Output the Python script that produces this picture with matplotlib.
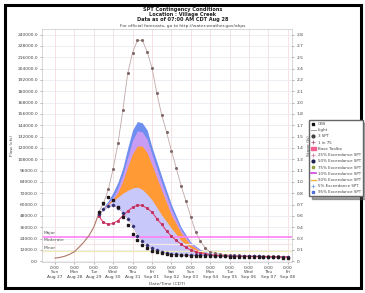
import numpy as np
from matplotlib import pyplot as plt
from matplotlib.lines import Line2D
from matplotlib.patches import Patch, Rectangle

# day offsets from Aug 27 00:00 CDT
tick_days = list(range(13))
tick_labels = [
    "0:00\nSun\nAug 27", "0:00\nMon\nAug 28", "0:00\nTue\nAug 29", "0:00\nWed\nAug 30",
    "0:00\nThu\nAug 31", "0:00\nFri\nSep 01", "0:00\nSat\nSep 02", "0:00\nSun\nSep 03",
    "0:00\nMon\nSep 04", "0:00\nTue\nSep 05", "0:00\nWed\nSep 06", "0:00\nThu\nSep 07",
    "0:00\nFri\nSep 08",
]

obs_t = [0, 0.25, 0.5, 0.75, 1.0, 1.25, 1.5, 1.75, 2.0, 2.25]
obs_flow = [3200, 4000, 5200, 7200, 10000, 15000, 20500, 27000, 36000, 50000]

# 6-hourly forecast traces
fc_t = np.arange(2.25, 12.01, 0.25)
max_flow = [52000, 61000, 76000, 98000, 125000, 160000, 199000, 221000, 234000, 234000,
            222000, 205000, 178000, 155000, 137000, 117000, 99000, 80000, 64000, 47000,
            31000, 21000, 14000, 9600, 8200, 7500, 7000, 6600, 6300, 6100,
            5900, 5700, 5500, 5400, 5300, 5200, 5100, 5000, 4900, 4800]
p50_flow = [50000, 55000, 58000, 59500, 56000, 51000, 45000, 37000, 27000, 21000,
            17000, 13500, 11500, 9800, 8600, 7800, 7300, 7000, 6800, 6600,
            6400, 6200, 6100, 6000, 5900, 5800, 5700, 5600, 5500, 5400,
            5300, 5200, 5100, 5000, 4900, 4800, 4700, 4600, 4500, 4400]
obs_sq_flow = [52000, 62000, 68000, 65000, 57000, 47000, 38000, 29000, 22000, 17000,
               13500, 11000, 9500, 8300, 7500, 7000, 6600, 6300, 6000, 5800,
               5600, 5500, 5400, 5300, 5200, 5100, 5000, 4900, 4800, 4700,
               4600, 4500, 4400, 4300, 4200, 4100, 4000, 3900, 3800, 3700]
base_flow = [48000, 41000, 39000, 40000, 43000, 48000, 53000, 57000, 59500, 59000,
             56000, 52000, 45000, 39000, 32000, 26500, 22000, 18000, 14500, 11700,
             10000, 8500, 7400, 6600, 6200, 5900, 5700, 5500, 5400, 5300,
             5200, 5100, 5000, 4900, 4800, 4800, 4700, 4700, 4600, 4600]

# exceedance envelope
band_t = [2.25, 2.5, 2.75, 3.0, 3.25, 3.5, 3.75, 4.0, 4.25, 4.5, 4.75, 5.0,
          5.5, 6.0, 6.5, 7.0, 7.5, 8.0, 9.0, 10.0, 11.0, 12.0]
band_low = [50000, 55000, 58000, 59500, 56000, 51000, 45000, 37000, 27000, 21000, 17000, 13500,
            9800, 7800, 7000, 6600, 6200, 6000, 5600, 5200, 4800, 4400]
lav_top = [50000, 56000, 60000, 64000, 68000, 72000, 75000, 77500, 78500, 76000, 71000, 65000,
           49000, 35000, 22000, 14000, 9600, 7400, 6000, 5300, 4900, 4500]
orange_top = [50000, 56000, 61000, 66000, 73000, 85000, 100000, 114000, 122000, 122000, 115000, 102000,
              75000, 49000, 30000, 17000, 10600, 7500, 6200, 5400, 5000, 4600]
violet_top = [50000, 56500, 62000, 68000, 78000, 92000, 110000, 128000, 138000, 137000, 129000, 113000,
              83000, 55000, 33000, 18500, 11500, 7800, 6300, 5500, 5000, 4700]
blue_top = [50000, 57000, 64000, 73000, 84000, 99000, 120000, 139000, 148000, 146500, 139000, 121000,
            90000, 60000, 36000, 20000, 12200, 8100, 6400, 5600, 5100, 4800]

levels = [26000, 18500, 10500]
level_names = ["Major", "Moderate", "Minor"]
level_colors = ["#ff80f4", "#f2e6e6", "#f0ecb8"]

flow_ticks = np.arange(0, 240001, 12000)
stage_ticks = np.linspace(0, 2.8, 21)

legend_labels = ["OBS", "Light", "3 SPT", "1 in 75", "Base Toolbx",
                 "25% Exceedance SPT", "50% Exceedance SPT", "75% Exceedance SPT",
                 "10% Exceedance SPT", "90% Exceedance SPT", "5% Exceedance SPT",
                 "95% Exceedance SPT"]


def main():
    fig = plt.figure(figsize=(3.65, 2.93), dpi=100)
    ax = fig.add_axes([42 / 365, 1 - 262 / 293, 250 / 365, 233 / 293])
    fs = 3.2

    ax.fill_between(band_t, band_low, blue_top, color="#6f8ff0", lw=0)
    ax.fill_between(band_t, band_low, violet_top, color="#c89cf2", lw=0)
    ax.fill_between(band_t, band_low, orange_top, color="#ff9a35", lw=0)
    ax.fill_between(band_t, band_low, lav_top, color="#c9c8fb", lw=0)

    for lev, name, col in zip(levels, level_names, level_colors):
        ax.axhline(lev, color=col, lw=1.2 if name == "Major" else 0.9, zorder=2)
        ax.text(-0.6, lev + 1500, name, fontsize=fs, color="#555555", va="bottom")

    ax.plot(obs_t, obs_flow, color="#b07868", lw=0.8, zorder=3)
    ax.plot(fc_t, max_flow, color="#c0a8a8", lw=0.6, marker="o", ms=1.2,
            mfc="#806868", mec="#806868", zorder=4)
    ax.plot(fc_t, base_flow, color="#e04070", lw=0.8, marker="s", ms=1.1,
            mfc="#c03060", mec="#c03060", zorder=4)
    ax.plot(fc_t, p50_flow, color="#303070", lw=0, marker="D", ms=1.3,
            mfc="#303070", mec="#303070", zorder=5)
    ax.plot(fc_t, obs_sq_flow, color="#201818", lw=0, marker="s", ms=1.5,
            mfc="#201818", mec="#201818", zorder=5)

    ax.set_xlim(-0.67, 12.22)
    ax.set_ylim(-900, 246000)
    ax.set_xticks(tick_days)
    ax.set_xticklabels(tick_labels, fontsize=fs, color="#444444", linespacing=1.1)
    ax.set_yticks(flow_ticks)
    ax.set_yticklabels([f"{v:.1f}" for v in flow_ticks], fontsize=fs, color="#444444")
    ax.tick_params(length=1.5, width=0.4, pad=1.5, colors="#777777", labelcolor="#444444")
    ax.grid(axis="x", color="#f3d6d6", lw=0.5)
    ax.grid(axis="y", color="#e6e6ee", lw=0.5)
    ax.set_axisbelow(True)
    for sp in ax.spines.values():
        sp.set_color("#c8c8c8")
        sp.set_linewidth(0.5)
    ax.set_ylabel("Flow (cfs)", fontsize=fs, color="#444444", labelpad=2)
    ax.set_xlabel("Date/Time (CDT)", fontsize=fs, color="#444444", labelpad=2)

    ax2 = ax.twinx()
    ax2.set_ylim(-900 * 2.8 / 240000, 246000 * 2.8 / 240000)
    ax2.set_yticks(stage_ticks)
    ax2.set_yticklabels(["0"] + [f"{v:.1f}" for v in stage_ticks[1:]], fontsize=fs)
    ax2.tick_params(length=1.5, width=0.4, pad=2, colors="#777777", labelcolor="#444444")
    for sp in ax2.spines.values():
        sp.set_visible(False)
    ax2.set_ylabel("Stage (ft)", fontsize=fs, color="#444444", labelpad=2)

    handles = [
        Line2D([], [], ls="", marker="s", color="#101010", ms=2),
        Line2D([], [], color="#a0a0a0", lw=0.7),
        Line2D([], [], ls="", marker="o", color="#404040", ms=2),
        Line2D([], [], ls="", marker="+", color="#c04060", ms=2.5, mew=0.5),
        Patch(color="#f06090"),
        Line2D([], [], ls="", marker="+", color="#e070a0", ms=2.5, mew=0.5),
        Line2D([], [], ls="", marker="o", color="#202050", ms=2),
        Line2D([], [], ls="", marker="s", color="#90a040", ms=2),
        Line2D([], [], color="#d040e0", lw=1.2),
        Line2D([], [], color="#f0b040", lw=1.0),
        Line2D([], [], ls="", marker="+", color="#70a0e0", ms=2.5, mew=0.5),
        Line2D([], [], ls="", marker="s", color="#5070e0", ms=2),
    ]
    fig.legend(handles, legend_labels, loc="upper left", bbox_to_anchor=(307 / 365, 1 - 118 / 293),
               fontsize=2.9, frameon=True, shadow=True, fancybox=False, edgecolor="#666666",
               handlelength=1.2, handletextpad=0.5, labelspacing=0.55, borderpad=0.5,
               labelcolor="#444444")

    title_lines = [
        ("SPT Contingency Conditions", 9),
        ("Location : Village Creek", 14.5),
        ("Data as of 07:00 AM CDT Aug 28", 20),
    ]
    for txt, yy in title_lines:
        fig.text(0.5, 1 - yy / 293, txt, ha="center", va="center", fontsize=3.6,
                 color="#222222", fontweight="bold")
    fig.text(0.5, 1 - 25.5 / 293, "For official forecasts, go to http://water.weather.gov/ahps",
             ha="center", va="center", fontsize=3.2, color="#444444")

    fig.patches.append(Rectangle((5 / 365, 5 / 293), 356 / 365, 283 / 293, transform=fig.transFigure,
                                 fill=False, edgecolor="black", lw=2.2))
    fig.savefig("out.png", dpi=100)


if __name__ == "__main__":
    main()
